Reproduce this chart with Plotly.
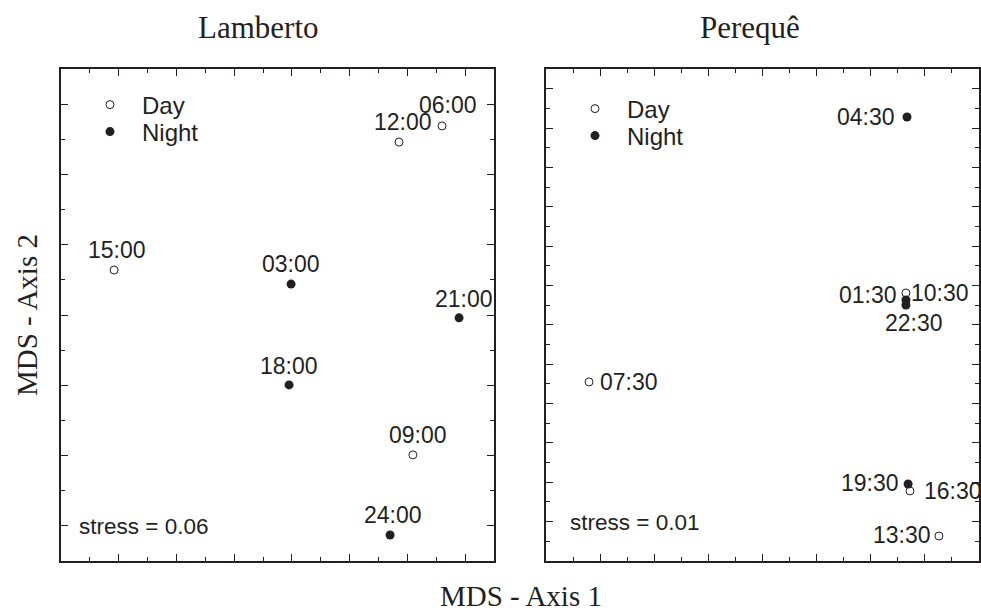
import plotly.graph_objects as go

# ---------------- data (arbitrary MDS units) ----------------
lam_day_labels = ["06:00", "09:00", "12:00", "15:00"]
lam_day_x = [13.20, 12.19, 11.71, 1.84]
lam_day_y = [12.38, 3.02, 11.92, 8.28]
lam_night_labels = ["18:00", "21:00", "24:00", "03:00"]
lam_night_x = [7.90, 13.79, 11.40, 7.97]
lam_night_y = [5.01, 6.92, 0.74, 7.88]

per_day_labels = ["07:30", "10:30", "13:30", "16:30"]
per_day_x = [1.59, 13.30, 14.52, 13.45]
per_day_y = [9.10, 13.62, 1.27, 3.56]
per_night_labels = ["19:30", "22:30", "01:30", "04:30"]
per_night_x = [13.38, 13.30, 13.30, 13.34]
per_night_y = [3.91, 13.01, 13.26, 22.56]

panel_titles = ["Lamberto", "Perequê"]
stress_texts = ["stress = 0.06", "stress = 0.01"]
x_title = "MDS - Axis 1"
y_title = "MDS - Axis 2"

# ---------------- style ----------------
INK = "#231f20"
SANS = "Liberation Sans, Arial, sans-serif"
SERIF = "Liberation Serif, Times New Roman, serif"
W, H = 981, 611

# label placement: (xanchor, xshift px, yshift px)
label_pos = {
    "06:00": ("center", 6, 21), "09:00": ("center", 5, 20), "12:00": ("center", 4, 20),
    "15:00": ("center", 3, 20), "18:00": ("center", 0, 19), "21:00": ("center", 5, 19),
    "24:00": ("center", 3, 20), "03:00": ("center", 0, 20),
    "07:30": ("left", 9, 0), "10:30": ("left", 3, 0), "13:30": ("right", -6, 1),
    "16:30": ("left", 12, 0), "19:30": ("right", -7, 1), "22:30": ("center", 8, -18),
    "01:30": ("right", -7, 5), "04:30": ("right", -10, 0),
}

fig = go.Figure()

def add_panel(dx, dy, dl, nx, ny, nl, xa, ya, leg_day, leg_night):
    fig.add_trace(go.Scatter(
        x=dx, y=dy, mode="markers", name="Day", xaxis=xa, yaxis=ya, legend=leg_day,
        marker=dict(symbol="circle", size=8, color="white", line=dict(color=INK, width=1)),
        hoverinfo="skip"))
    fig.add_trace(go.Scatter(
        x=nx, y=ny, mode="markers", name="Night", xaxis=xa, yaxis=ya, legend=leg_night,
        marker=dict(symbol="circle", size=9, color=INK, line=dict(color=INK, width=0)),
        hoverinfo="skip"))
    for xs, ys, ls in ((dx, dy, dl), (nx, ny, nl)):
        for x, y, lab in zip(xs, ys, ls):
            anc, xs_, ys_ = label_pos[lab]
            fig.add_annotation(x=x, y=y, xref=xa, yref=ya, text=lab, showarrow=False,
                               xanchor=anc, yanchor="middle", xshift=xs_, yshift=ys_,
                               font=dict(family=SANS, size=23, color=INK))

add_panel(lam_day_x, lam_day_y, lam_day_labels, lam_night_x, lam_night_y, lam_night_labels,
          "x", "y", "legend", "legend3")
add_panel(per_day_x, per_day_y, per_day_labels, per_night_x, per_night_y, per_night_labels,
          "x2", "y2", "legend2", "legend4")

def axis(domain, rng, tick0, anchor):
    return dict(domain=domain, range=rng, anchor=anchor, showgrid=False, zeroline=False,
                showline=True, linecolor=INK, linewidth=1.8, mirror="allticks",
                ticks="inside", ticklen=7, tickwidth=1.2, tickcolor=INK,
                tick0=tick0, dtick=2, showticklabels=False, fixedrange=True,
                minor=dict(ticks="inside", ticklen=4, tickwidth=1.2, tickcolor=INK,
                           dtick=1, tick0=0, showgrid=False))

ydom = [50 / H, 542 / H]
legend_common = dict(font=dict(family=SANS, size=24, color=INK), bgcolor="rgba(0,0,0,0)",
                     borderwidth=0, xanchor="left", yanchor="middle", itemwidth=54,
                     itemclick=False, itemdoubleclick=False)

fig.update_layout(
    width=W, height=H, margin=dict(l=0, r=0, t=0, b=0),
    paper_bgcolor="white", plot_bgcolor="white", showlegend=True,
    xaxis=axis([61 / W, 494 / W], [0, 15], 0, "y"),
    yaxis=axis(ydom, [0, 14], 1, "x"),
    xaxis2=axis([546 / W, 979 / W], [0, 16], 0, "y2"),
    yaxis2=axis(ydom, [0, 25], 0, "x2"),
    legend=dict(x=78 / W, y=1 - 105 / H, **legend_common),
    legend3=dict(x=78 / W, y=1 - 132 / H, **legend_common),
    legend2=dict(x=563 / W, y=1 - 109 / H, **legend_common),
    legend4=dict(x=563 / W, y=1 - 136 / H, **legend_common),
)

# panel titles, stress, axis titles
fig.add_annotation(x=258 / W, y=1 - 27 / H, xref="paper", yref="paper", text=panel_titles[0],
                   showarrow=False, xanchor="center", yanchor="middle",
                   font=dict(family=SERIF, size=31, color=INK))
fig.add_annotation(x=750 / W, y=1 - 27 / H, xref="paper", yref="paper", text=panel_titles[1],
                   showarrow=False, xanchor="center", yanchor="middle",
                   font=dict(family=SERIF, size=31, color=INK))
fig.add_annotation(x=(77 - 61) / 433, y=(561 - 526) / 492, xref="x domain", yref="y domain",
                   text=stress_texts[0], showarrow=False, xanchor="left", yanchor="middle",
                   font=dict(family=SANS, size=22.5, color=INK))
fig.add_annotation(x=(568 - 546) / 433, y=(561 - 522) / 492, xref="x2 domain", yref="y2 domain",
                   text=stress_texts[1], showarrow=False, xanchor="left", yanchor="middle",
                   font=dict(family=SANS, size=22.5, color=INK))
fig.add_annotation(x=521 / W, y=1 - 596 / H, xref="paper", yref="paper", text=x_title,
                   showarrow=False, xanchor="center", yanchor="middle",
                   font=dict(family=SERIF, size=29, color=INK))
fig.add_annotation(x=27 / W, y=1 - 315 / H, xref="paper", yref="paper", text=y_title,
                   showarrow=False, xanchor="center", yanchor="middle", textangle=-90,
                   font=dict(family=SERIF, size=29, color=INK))

fig.write_html("out.html", config={"displayModeBar": False},
               post_script="document.body.style.margin='0';document.body.style.overflow='hidden';")
